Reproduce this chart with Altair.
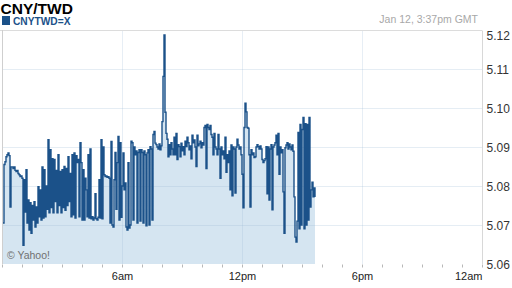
import altair as alt
import numpy as np
import pandas as pd

# CNY/TWD intraday quotes, one reading every 3 minutes from 00:03 GMT
h00 = [5.0705, 5.0855, 5.0862, 5.0875, 5.0880, 5.0885, 5.0878, 5.0746, 5.0849, 5.0849,
       5.0845, 5.0849, 5.0840, 5.0837, 5.0840, 5.0832, 5.0829, 5.0824, 5.0826, 5.0820]
h01 = [5.0648, 5.0816, 5.0733, 5.0842, 5.0705, 5.0764, 5.0687, 5.0757, 5.0679, 5.0750,
       5.0713, 5.0760, 5.0695, 5.0746, 5.0705, 5.0798, 5.0721, 5.0790, 5.0713, 5.0849]
h02 = [5.0718, 5.0842, 5.0721, 5.0800, 5.0740, 5.0919, 5.0731, 5.0893, 5.0745, 5.0870,
       5.0731, 5.0868, 5.0760, 5.0840, 5.0731, 5.0880, 5.0750, 5.0837, 5.0731, 5.0842]
h03 = [5.0745, 5.0850, 5.0738, 5.0845, 5.0750, 5.0875, 5.0760, 5.0832, 5.0721, 5.0880,
       5.0726, 5.0885, 5.0718, 5.0878, 5.0860, 5.0868, 5.0721, 5.0911, 5.0860, 5.0713]
h04 = [5.0842, 5.0713, 5.0820, 5.0790, 5.0721, 5.0880, 5.0718, 5.0895, 5.0716, 5.0721,
       5.0713, 5.0718, 5.0780, 5.0716, 5.0713, 5.0720, 5.0816, 5.0718, 5.0919, 5.0716]
h05 = [5.0900, 5.0829, 5.0824, 5.0826, 5.0822, 5.0824, 5.0820, 5.0705, 5.0914, 5.0700,
       5.0695, 5.0816, 5.0886, 5.0740, 5.0860, 5.0927, 5.0713, 5.0911, 5.0720, 5.0800]
h06 = [5.0885, 5.0790, 5.0808, 5.0695, 5.0687, 5.0860, 5.0692, 5.0700, 5.0915, 5.0911,
       5.0713, 5.0900, 5.0880, 5.0890, 5.0705, 5.0886, 5.0893, 5.0710, 5.0893, 5.0886]
h07 = [5.0705, 5.0890, 5.0880, 5.0698, 5.0885, 5.0893, 5.0700, 5.0901, 5.0895, 5.0713,
       5.0932, 5.0940, 5.0910, 5.0906, 5.0900, 5.0895, 5.0908, 5.0893, 5.0903, 5.0965]
h08 = [5.1081, 5.1187, 5.0989, 5.0935, 5.0920, 5.0875, 5.0906, 5.0880, 5.0911, 5.0895,
       5.0880, 5.0925, 5.0880, 5.0935, 5.0868, 5.0906, 5.0901, 5.0875, 5.0910, 5.0890]
h09 = [5.0901, 5.0880, 5.0915, 5.0901, 5.0925, 5.0911, 5.0893, 5.0903, 5.0870, 5.0930,
       5.0911, 5.0918, 5.0900, 5.0850, 5.0930, 5.0903, 5.0908, 5.0915, 5.0898, 5.0911]
h10 = [5.0905, 5.0950, 5.0955, 5.0845, 5.0958, 5.0950, 5.0945, 5.0955, 5.0932, 5.0925,
       5.0880, 5.0935, 5.0900, 5.0895, 5.0880, 5.0932, 5.0895, 5.0820, 5.0900, 5.0880]
h11 = [5.0890, 5.0870, 5.0925, 5.0835, 5.0880, 5.0860, 5.0890, 5.0790, 5.0905, 5.0775,
       5.0900, 5.0895, 5.0782, 5.0900, 5.0920, 5.0905, 5.0895, 5.0900, 5.0880, 5.0830]
h12 = [5.0744, 5.0950, 5.1012, 5.0990, 5.0950, 5.0948, 5.0880, 5.0746, 5.0893, 5.0880,
       5.0885, 5.0873, 5.0875, 5.0900, 5.0906, 5.0901, 5.0895, 5.0903, 5.0895, 5.0868]
h13 = [5.0860, 5.0865, 5.0870, 5.0901, 5.0780, 5.0900, 5.0764, 5.0895, 5.0906, 5.0739,
       5.0900, 5.0905, 5.0911, 5.0930, 5.0880, 5.0935, 5.0830, 5.0900, 5.0885, 5.0893]
h14 = [5.0785, 5.0679, 5.0898, 5.0905, 5.0911, 5.0895, 5.0908, 5.0900, 5.0893, 5.0905,
       5.0889, 5.0772, 5.0669, 5.0656, 5.0710, 5.0937, 5.0690, 5.0958, 5.0700, 5.0945]
h15 = [5.0976, 5.0690, 5.0960, 5.0700, 5.0958, 5.0713, 5.0976, 5.0746, 5.0790, 5.0810,
       5.0772, 5.0795, 5.0772]

prices = h00 + h01 + h02 + h03 + h04 + h05 + h06 + h07 + h08 + h09 + h10 + h11 + h12 + h13 + h14 + h15
interval_min = 3
hours = [(i + 1) * interval_min / 60 for i in range(len(prices))]
df = pd.DataFrame({"hour": hours, "price": prices})

y_ticks = [5.06, 5.07, 5.08, 5.09, 5.10, 5.11, 5.12]
y_grid = [5.07, 5.08, 5.09, 5.10, 5.11]
x_ticks = list(range(0, 25))
x_grid = [6, 12, 18]

LINE = "#1b5189"
FILL = "#d5e5f1"
FONT = "Liberation Sans"

x_scale = alt.Scale(domain=[0, 24], nice=False)
y_scale = alt.Scale(domain=[5.06, 5.12], nice=False, zero=False)
x_axis = alt.Axis(orient="bottom", values=x_ticks, title=None, domain=False, grid=False,
                  labelExpr="datum.value==6?'6am':datum.value==12?'12pm':datum.value==18?'6pm':datum.value==24?'12am':''",
                  labelOverlap=False, labelFlush=True,
                  labelFont=FONT, labelFontSize=11, labelColor="#222222",
                  labelPadding=3, tickSize=3, tickColor="#b8b8b8")
y_axis = alt.Axis(orient="right", values=y_ticks, format=".2f", title=None,
                  domain=True, domainColor="#d8d8d8", ticks=False, grid=False,
                  labelOverlap=False, labelFlush=False,
                  labelFont=FONT, labelFontSize=12, labelColor="#333333", labelPadding=4,
                  labelBaseline={"condition": {"test": "datum.value >= 5.119", "value": "top"}, "value": "middle"})

area = alt.Chart(df).mark_area(interpolate="step-after", color=FILL, opacity=1).encode(
    x=alt.X("hour:Q", scale=x_scale, axis=x_axis),
    y=alt.Y("price:Q", scale=y_scale, axis=y_axis),
    y2=alt.Y2(datum=5.06))

hgrid = alt.Chart(pd.DataFrame({"g": y_grid})).mark_rule(
    color="#9ab8d6", opacity=0.26, strokeWidth=1, yOffset=0.5).encode(
    y=alt.Y("g:Q", scale=y_scale, axis=y_axis))
vgrid = alt.Chart(pd.DataFrame({"g": x_grid})).mark_rule(
    color="#9ab8d6", opacity=0.24, strokeWidth=1, xOffset=0.5).encode(
    x=alt.X("g:Q", scale=x_scale, axis=x_axis))

line = alt.Chart(df).mark_line(interpolate="step-after", color=LINE, strokeWidth=1.4).encode(
    x=alt.X("hour:Q", scale=x_scale, axis=x_axis),
    y=alt.Y("price:Q", scale=y_scale, axis=y_axis))

one = pd.DataFrame({"k": [0]})
top_rule = alt.Chart(one).mark_rule(color="#dcdcdc", strokeWidth=1).encode(
    x=alt.value(-2), x2=alt.value(480), y=alt.value(0.5))
left_rule = alt.Chart(one).mark_rule(color="#cfcfcf", strokeWidth=1).encode(
    x=alt.value(0.5), y=alt.value(0), y2=alt.value(234))

title = alt.Chart(one).mark_text(text="CNY/TWD", font=FONT, fontSize=15.5, fontWeight="bold",
                                 color="#000000", align="left", baseline="alphabetic").encode(
    x=alt.value(-1.5), y=alt.value(-16.5))
swatch = alt.Chart(one).mark_rect(color=LINE).encode(
    x=alt.value(0), x2=alt.value(8), y=alt.value(-14), y2=alt.value(-5))
legend = alt.Chart(one).mark_text(text="CNYTWD=X", font=FONT, fontSize=10.2, fontWeight="bold",
                                  color=LINE, align="left", baseline="alphabetic").encode(
    x=alt.value(11), y=alt.value(-5.5))
stamp = alt.Chart(one).mark_text(text="Jan 12, 3:37pm GMT", font=FONT, fontSize=10.5,
                                 color="#a8a8a8", align="right", baseline="alphabetic").encode(
    x=alt.value(476), y=alt.value(-7))
credit = alt.Chart(one).mark_text(text="© Yahoo!", font=FONT, fontSize=10.5,
                                  color="#707070", align="left", baseline="alphabetic").encode(
    x=alt.value(5), y=alt.value(228.5))

chart = alt.layer(area, hgrid, vgrid, line, top_rule, left_rule, title, swatch, legend, stamp, credit).properties(
    width=480, height=234,
    padding={"left": 2, "top": 30, "right": 30, "bottom": 24},
    autosize=alt.AutoSizeParams(type="none"),
    background="#ffffff",
).configure_view(stroke=None)

chart.save("out.html", embed_options={"renderer": "svg", "actions": False})
